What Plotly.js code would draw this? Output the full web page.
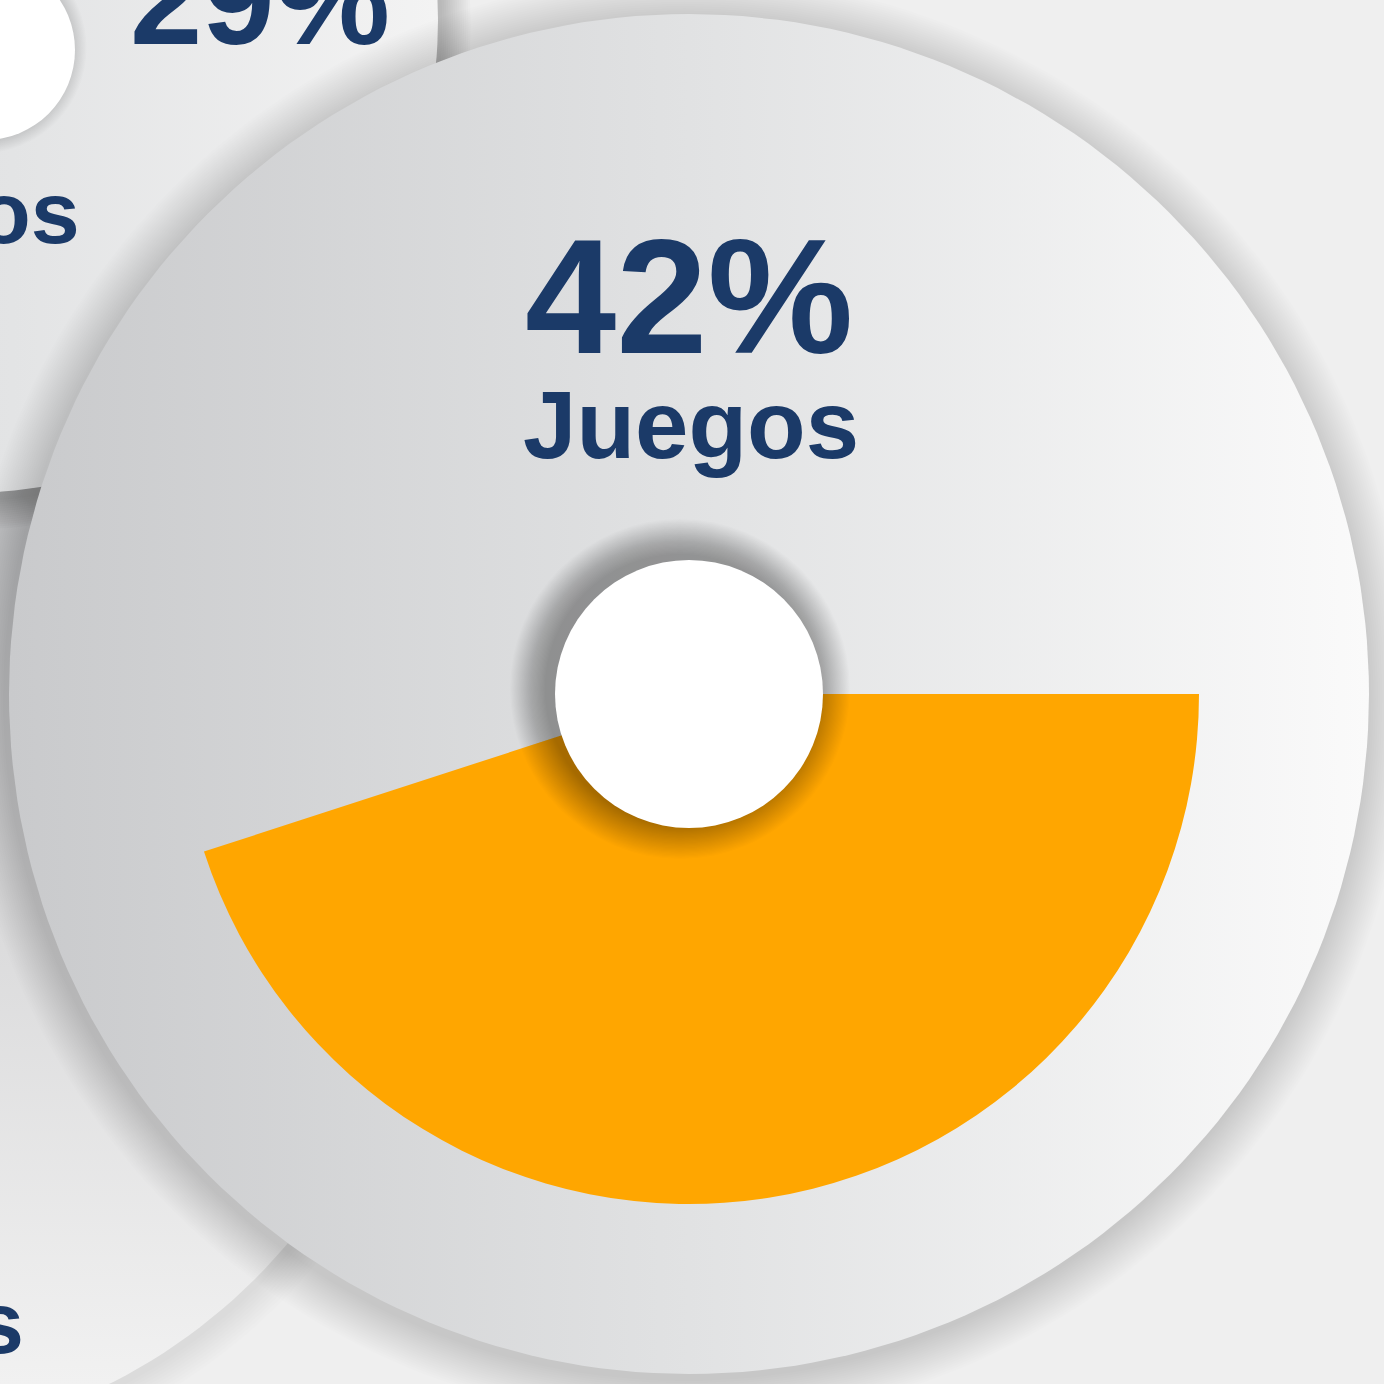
<!DOCTYPE html>
<html>
<head>
<meta charset="utf-8">
<script src="https://cdn.plot.ly/plotly-3.0.1.min.js"></script>
<style>html,body{margin:0;padding:0;background:#efefef;}#chart{width:1384px;height:1384px;}</style>
</head>
<body>
<div id="chart"></div>
<script>
// ---- data ----
const categories = ["Juegos", "Resto"];
const sliceValues = [45, 55];
const mainPercent = "42%";
const mainLabel = "Juegos";
const sidePercent = "29%";
const sideLabelTail = "os";
const lowerLabelTail = "s";

// ---- styling ----
const NAVY = "#1b3a68";
const ORANGE = "#ffa600";
const FONT = "Liberation Sans, Arial, sans-serif";

// decorative circle outline helper (background discs, not data)
function ring(cx, cy, r) {
  const xs = [], ys = [];
  for (let i = 0; i <= 240; i++) {
    const a = 2 * Math.PI * i / 240;
    xs.push(cx + r * Math.cos(a));
    ys.push(cy + r * Math.sin(a));
  }
  return {xs, ys};
}
function disc(cx, cy, r, fill) {
  const p = ring(cx, cy, r);
  const t = {type: "scatter", mode: "lines", x: p.xs, y: p.ys, fill: "toself",
    line: {width: 0, color: "rgba(0,0,0,0)"}, hoverinfo: "skip", showlegend: false};
  if (typeof fill === "string") t.fillcolor = fill; else t.fillgradient = fill;
  return t;
}

const MAIN = {cx: 689, cy: 694, r: 680, pie: 510, hole: 134};
const TL = {cx: -35, cy: 20, r: 473};
const LL = {cx: -141, cy: 883, r: 560};

const traces = [];
// lower-left disc
for (let k = 10; k >= 1; k--) traces.push(disc(LL.cx + 3, LL.cy + 4, LL.r + k * 3, "rgba(0,0,0,0.008)"));
traces.push(disc(LL.cx, LL.cy, LL.r, {type: "vertical", start: 480, stop: 1384,
  colorscale: [[0, "#c6c7c9"], [0.45, "#d9d9da"], [1, "#f1f1f1"]]}));
// top-left disc
for (let k = 14; k >= 1; k--) traces.push(disc(TL.cx + 2, TL.cy + 6, TL.r + k * 2.2, "rgba(0,0,0,0.016)"));
traces.push(disc(TL.cx, TL.cy, TL.r, {type: "horizontal", start: -508, stop: 438,
  colorscale: [[0, "#d6d7d9"], [0.55, "#e3e4e5"], [1, "#f3f3f3"]]}));
// big disc shadow + disc
for (let k = 20; k >= 1; k--) traces.push(disc(MAIN.cx - 4, MAIN.cy + 5, MAIN.r + k * 2.2, "rgba(0,0,0,0.007)"));
traces.push(disc(MAIN.cx, MAIN.cy, MAIN.r, {type: "horizontal", start: MAIN.cx - MAIN.r, stop: MAIN.cx + MAIN.r,
  colorscale: [[0, "#c9cacc"], [0.5, "#e1e2e3"], [1, "#fafafa"]]}));

// the data slice
traces.push({
  type: "pie",
  labels: categories,
  values: sliceValues,
  sort: false,
  direction: "clockwise",
  rotation: 90,
  hole: 0.2,
  textinfo: "none",
  hoverinfo: "skip",
  showlegend: false,
  marker: {colors: [ORANGE, "rgba(0,0,0,0)"], line: {width: 0}},
  domain: {
    x: [(MAIN.cx - MAIN.pie) / 1384, (MAIN.cx + MAIN.pie) / 1384],
    y: [(1384 - MAIN.cy - MAIN.pie) / 1384, (1384 - MAIN.cy + MAIN.pie) / 1384]
  }
});

// shapes: hole shadows + white holes
const shapes = [];
function circ(cx, cy, r, color) {
  return {type: "circle", xref: "x", yref: "y", x0: cx - r, x1: cx + r, y0: cy - r, y1: cy + r,
    fillcolor: color, line: {width: 0}, layer: "above"};
}
for (let k = 30; k >= 1; k--) shapes.push(circ(MAIN.cx - 9, MAIN.cy - 5, MAIN.hole + k * 1.2, "rgba(0,0,0,0.013)"));
shapes.push(circ(MAIN.cx, MAIN.cy, MAIN.hole, "#ffffff"));
for (let k = 12; k >= 1; k--) shapes.push(circ(-19, 48, 90 + k * 1.3, "rgba(0,0,0,0.013)"));
shapes.push(circ(-15, 50, 90, "#ffffff"));

const annotations = [
  {text: mainPercent, x: MAIN.cx, y: 296, xref: "x", yref: "y", xanchor: "center", yanchor: "middle",
   showarrow: false, font: {family: FONT, size: 164, color: NAVY, weight: 700}},
  {text: mainLabel, x: MAIN.cx + 2, y: 424, xref: "x", yref: "y", xanchor: "center", yanchor: "middle",
   showarrow: false, font: {family: FONT, size: 96, color: NAVY, weight: 700}},
  {text: sidePercent, x: 260 / 1384, y: 1.0007, xref: "paper", yref: "paper", xanchor: "center", yanchor: "middle",
   showarrow: false, font: {family: FONT, size: 130, color: NAVY, weight: 700}},
  {text: sideLabelTail, x: 82, y: 212, xref: "x", yref: "y", xanchor: "right", yanchor: "middle",
   showarrow: false, font: {family: FONT, size: 88, color: NAVY, weight: 700}},
  {text: lowerLabelTail, x: 26, y: 1322, xref: "x", yref: "y", xanchor: "right", yanchor: "middle",
   showarrow: false, font: {family: FONT, size: 88, color: NAVY, weight: 700}}
];

const layout = {
  width: 1384, height: 1384,
  margin: {l: 0, r: 0, t: 0, b: 0, pad: 0},
  paper_bgcolor: "#efefef", plot_bgcolor: "#efefef",
  xaxis: {range: [0, 1384], visible: false, fixedrange: true},
  yaxis: {range: [1384, 0], visible: false, fixedrange: true},
  showlegend: false,
  shapes: shapes,
  annotations: annotations,
  hovermode: false
};

Plotly.newPlot("chart", traces, layout, {displayModeBar: false, staticPlot: true});
</script>
</body>
</html>
